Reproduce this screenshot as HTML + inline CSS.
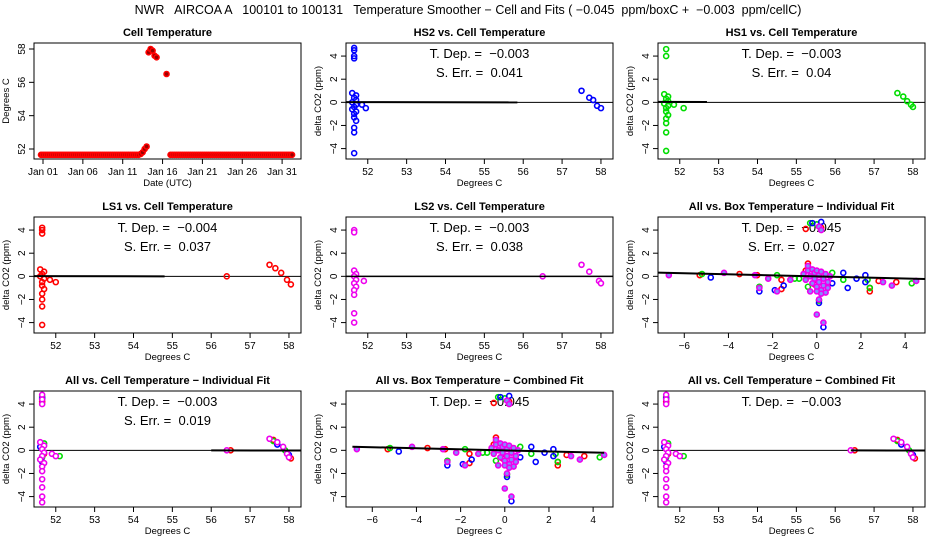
<!DOCTYPE html>
<html><head><meta charset="utf-8"><style>
body{margin:0;background:#fff;}
svg{display:block;font-family:"Liberation Sans",sans-serif;}
svg text{white-space:pre;}
</style></head><body>
<svg id="c" width="936" height="540" viewBox="0 0 936 540">
<text x="468" y="14" text-anchor="middle" font-size="12.5" xml:space="preserve">NWR   AIRCOA A   100101 to 100131   Temperature Smoother − Cell and Fits ( −0.045  ppm/boxC +  −0.003  ppm/cellC)</text>
</svg>
<script>
// ---- Panel 1: cell temperature time series (every 0.25 day starting day -0.25) ----
const cellTempStart = -0.25;
const cellTempStep = 0.25;
const cellTemps = [
51.65,51.65,51.65,51.65,51.65,51.65,51.65,51.65,51.65,51.65,51.65,51.65,51.65,51.65,51.65,51.65,51.65,51.65,51.65,51.65,
51.65,51.65,51.65,51.65,51.65,51.65,51.65,51.65,51.65,51.65,51.65,51.65,51.65,51.65,51.65,51.65,51.65,51.65,51.65,51.65,
51.65,51.65,51.65,51.65,51.65,51.65,51.65,51.65,51.65,51.65,51.7,51.8,52.0,52.15,57.8,58.0,57.9,57.6,57.5,null,
null,null,null,56.5,null,51.65,51.65,51.65,51.65,51.65,51.65,51.65,51.65,51.65,51.65,51.65,51.65,51.65,51.65,51.65,
51.65,51.65,51.65,51.65,51.65,51.65,51.65,51.65,51.65,51.65,51.65,51.65,51.65,51.65,51.65,51.65,51.65,51.65,51.65,51.65,
51.65,51.65,51.65,51.65,51.65,51.65,51.65,51.65,51.65,51.65,51.65,51.65,51.65,51.65,51.65,51.65,51.65,51.65,51.65,51.65,
51.65,51.65,51.65,51.65,51.65,51.65,51.65];
const dateTickDays = [0,5,10,15,20,25,30];
const dateTickLabels = ["Jan 01","Jan 06","Jan 11","Jan 16","Jan 21","Jan 26","Jan 31"];

// ---- cell-temperature scatter data: [x, y] ----
const hs2Pts = [[51.65,4.7],[51.65,4.5],[51.65,4.0],[51.65,3.8],[51.6,0.8],[51.7,0.6],[51.65,0.4],[51.7,0.2],[51.6,0],[51.7,-0.2],[51.65,-0.4],[51.6,-0.6],[51.7,-0.8],[51.65,-1.0],[51.65,-1.3],[51.7,-1.6],[51.65,-2.2],[51.65,-2.6],[51.65,-4.4],[51.85,-0.2],[51.95,-0.5],[57.5,1.0],[57.7,0.4],[57.8,0.2],[57.9,-0.3],[58.0,-0.5]];
const hs1Pts = [[51.65,4.6],[51.65,4.0],[51.6,0.7],[51.7,0.5],[51.65,0.3],[51.7,0.1],[51.6,-0.1],[51.7,-0.3],[51.65,-0.5],[51.65,-0.8],[51.7,-1.1],[51.65,-1.4],[51.65,-1.8],[51.65,-2.6],[51.65,-4.2],[51.85,-0.2],[52.1,-0.5],[57.6,0.8],[57.75,0.5],[57.85,0.1],[57.95,-0.2],[58.0,-0.4]];
const ls1Pts = [[51.65,4.2],[51.65,4.0],[51.65,3.7],[51.6,0.6],[51.7,0.4],[51.65,0.2],[51.6,0],[51.7,-0.2],[51.65,-0.5],[51.65,-0.8],[51.7,-1.1],[51.65,-1.5],[51.65,-2.0],[51.65,-2.6],[51.65,-4.2],[51.85,-0.3],[52.0,-0.5],[56.4,0.0],[57.5,1.0],[57.65,0.7],[57.8,0.3],[57.95,-0.3],[58.05,-0.7]];
const ls2Pts = [[51.65,4.0],[51.65,3.8],[51.65,0.5],[51.7,0.2],[51.65,0],[51.7,-0.3],[51.65,-0.6],[51.7,-0.9],[51.65,-1.2],[51.65,-1.6],[51.65,-3.2],[51.65,-4.0],[51.9,-0.4],[56.5,0.0],[57.5,1.0],[57.7,0.4],[57.95,-0.4],[58.0,-0.6]];
const allCellMag = [[51.65,4.8],[51.65,4.4],[51.65,4.0],[51.6,0.7],[51.7,0.4],[51.65,0.1],[51.7,-0.2],[51.65,-0.5],[51.6,-0.8],[51.7,-1.1],[51.65,-1.4],[51.65,-1.8],[51.65,-2.5],[51.65,-3.2],[51.65,-4.0],[51.65,-4.5],[51.9,-0.3],[52.0,-0.5],[56.4,0.0],[57.5,1.0],[57.7,0.7],[57.85,0.3],[57.95,-0.3],[58.0,-0.6]];
const allCellGrn = [[51.65,4.6],[51.7,0.6],[51.65,-0.6],[52.1,-0.5],[57.6,0.8],[57.9,0.0]];
const allCellBlu = [[51.65,4.5],[51.6,0.3],[51.65,-1.0],[57.7,0.5],[58.0,-0.4]];
const allCellRed = [[51.65,4.2],[51.7,-0.3],[56.5,0.0],[57.6,0.9],[58.05,-0.7]];

// ---- box-temperature scatter data ----
const boxMag = [[-6.7,0.1],[-4.2,0.3],[-2.6,-1.0],[-2.2,-0.2],[-1.8,-1.3],[-1.2,-0.3],[-0.6,0.2],[-0.5,-0.3],[-0.4,0.5],[-0.3,0.0],[-0.2,0.6],[-0.2,-0.6],[-0.1,0.3],[-0.1,-0.2],[0,0.5],[0,-0.9],[0.1,0.1],[0.1,-0.5],[0.2,0.4],[0.2,-1.2],[0.3,-0.2],[0.3,-0.8],[0.4,0.2],[0.4,-1.4],[0.5,-0.5],[0.5,-1.0],[0.6,0.0],[0.2,-1.5],[0,-1.3],[-0.3,-1.3],[-0.4,0.9],[0.1,-2.0],[0,-3.3],[0.3,-4.0],[0.1,4.3],[0.2,4.0],[3.4,-0.8],[4.5,-0.4],[3.0,-0.5],[-2.8,0.1]];
const boxGrn = [[-5.2,0.2],[-2.6,-0.9],[-1.8,0.1],[-1.0,-0.2],[-0.8,-0.2],[-0.4,-0.9],[0.1,-2.1],[0.7,0.3],[1.2,-0.3],[2.3,-0.3],[2.4,-1.0],[4.3,-0.6],[-0.3,4.6],[0.0,4.5]];
const boxBlu = [[-4.8,-0.1],[-2.6,-1.3],[-1.9,-1.2],[-1.5,-0.8],[0.1,-2.3],[0.3,-4.4],[0.7,-0.6],[1.2,0.3],[1.4,-1.0],[1.8,-0.2],[2.2,0.1],[2.2,-0.5],[-0.2,4.6],[0.2,4.7]];
const boxRed = [[-5.3,0.1],[-3.5,0.2],[-2.7,0.1],[-1.6,-1.1],[-1.6,-0.3],[-0.5,0.5],[-0.4,1.1],[0.2,4.2],[-0.5,4.1],[2.4,-1.0],[2.4,-1.3],[2.8,-0.4],[3.6,-0.5],[-0.1,-0.7]];

// ---- fit lines [x0, y0, x1, y1] and stats ----
const fitHS2 = [51.44,0.02,55.85,0.0];
const fitHS1 = [51.44,0.04,52.7,0.03];
const fitLS1 = [51.44,0.02,54.8,0.0];
const fitLS2 = [51.44,0.0,58.31,0.0];
const fitBoxInd = [-7.19,0.32,4.9,-0.23];
const fitCellInd = [56.0,0.0,58.31,-0.02];
const fitBoxComb = [-6.9,0.31,4.5,-0.21];
const fitCellComb = [56.4,0.0,58.31,-0.02];
const tempTicks = [52,53,54,55,56,57,58];
const boxTicks = [-6,-4,-2,0,2,4];
const deltaTicks = [-4,-2,0,2,4];
const tempDomain = [51.44,58.31];
const boxDomain = [-7.19,4.9];
const deltaDomain = [-4.9,5.13];

const NS = "http://www.w3.org/2000/svg";
const svg = document.getElementById("c");
function mk(tag, attrs, parent, text){
  const e = document.createElementNS(NS, tag);
  for (const k in attrs) e.setAttribute(k, attrs[k]);
  if (text !== undefined) e.textContent = text;
  (parent || svg).appendChild(e);
  return e;
}
function panel(col, row, name, title, xd, yd, xticks, xlabels, yticks, xlab, ylab){
  const L = 34 + 312*col, R = 301 + 312*col, T = 43 + 174*row, B = T + 116;
  const g = mk("g", {});
  
  
  const sx = v => L + (v - xd[0])/(xd[1]-xd[0])*(R-L);
  const sy = v => B - (v - yd[0])/(yd[1]-yd[0])*(B-T);
  const box = mk("rect", {x:L, y:T, width:R-L, height:B-T, fill:"none", stroke:"#000", "stroke-width":1}, g);
  
  
  const tt = mk("text", {x:(L+R)/2, y:T-7, "text-anchor":"middle", "font-size":11, "font-weight":"bold"}, g, title);
  
  
  const xa = mk("g", {}, g);
  
  
  mk("line", {x1:sx(xticks[0]), x2:sx(xticks[xticks.length-1]), y1:B, y2:B, stroke:"#000"}, xa);
  xticks.forEach((t,i)=>{
    mk("line", {x1:sx(t), x2:sx(t), y1:B, y2:B+5, stroke:"#000"}, xa);
    const lb = mk("text", {x:sx(t), y:B+16, "text-anchor":"middle", "font-size":10}, xa, xlabels[i]);
    
    
  });
  const xl = mk("text", {x:(L+R)/2, y:B+27, "text-anchor":"middle", "font-size":9.5}, g, xlab);
  
  
  const ya = mk("g", {}, g);
  
  
  mk("line", {x1:L, x2:L, y1:sy(yticks[0]), y2:sy(yticks[yticks.length-1]), stroke:"#000"}, ya);
  yticks.forEach(t=>{
    mk("line", {x1:L-5, x2:L, y1:sy(t), y2:sy(t), stroke:"#000"}, ya);
    const lb = mk("text", {x:L-9, y:sy(t), "text-anchor":"middle", "font-size":10, transform:`rotate(-90 ${L-9} ${sy(t)})`}, ya, t<0 ? "−"+(-t) : String(t));
    
    
  });
  const yl = mk("text", {x:L-25, y:(T+B)/2, "text-anchor":"middle", "font-size":9.5, transform:`rotate(-90 ${L-25} ${(T+B)/2})`}, g, ylab);
  
  
  return {g, sx, sy, L, R, T, B};
}
function pts(p, arr, color, fill){
  arr.forEach(d=>{
    const c = mk("circle", {cx:p.sx(d[0]), cy:p.sy(d[1]), r:2.5, fill:fill||"none", stroke:color, "stroke-width":1.6}, p.g);
    
    
  });
}
function fit(p, f, w){
  const l = mk("line", {x1:p.sx(f[0]), y1:p.sy(f[1]), x2:p.sx(f[2]), y2:p.sy(f[3]), stroke:"#000", "stroke-width":w||2}, p.g);
  
  
}
function zero(p){
  const l = mk("line", {x1:p.L, y1:p.sy(0), x2:p.R, y2:p.sy(0), stroke:"#000", "stroke-width":1}, p.g);
  
  
}
function stats(p, dep, err){
  const t = mk("text", {x:(p.L+p.R)/2, y:p.T+15, "text-anchor":"middle", "font-size":13}, p.g, "T. Dep. =  " + dep);
  
  
  if (err !== null){
    const e = mk("text", {x:(p.L+p.R)/2, y:p.T+34, "text-anchor":"middle", "font-size":13}, p.g, "S. Err. =  " + err);
    
    
  }
}
const tl = tempTicks.map(String), bl = boxTicks.map(t=>t<0?"−"+(-t):String(t));
const dY = "delta CO2 (ppm)", dC = "Degrees C";

// Panel 1
const p1 = panel(0,0,"cell-temperature-panel","Cell Temperature",[-1.13,32.37],[51.4,58.36],dateTickDays,dateTickLabels,[52,54,56,58],"Date (UTC)","Degrees C");
cellTemps.forEach((v,i)=>{
  if (v === null) return;
  const c = mk("circle", {cx:p1.sx(cellTempStart + i*cellTempStep), cy:p1.sy(v), r:2.5, fill:"#900", stroke:"#f00", "stroke-width":1.6}, p1.g);
  
  
});

// Panel 2
let p = panel(1,0,"hs2-panel","HS2 vs. Cell Temperature",tempDomain,deltaDomain,tempTicks,tl,deltaTicks,dC,dY);
zero(p); pts(p,hs2Pts,"#00f"); fit(p,fitHS2); stats(p,"−0.003","0.041");
// Panel 3
p = panel(2,0,"hs1-panel","HS1 vs. Cell Temperature",tempDomain,deltaDomain,tempTicks,tl,deltaTicks,dC,dY);
zero(p); pts(p,hs1Pts,"#0d0"); fit(p,fitHS1); stats(p,"−0.003","0.04");
// Panel 4
p = panel(0,1,"ls1-panel","LS1 vs. Cell Temperature",tempDomain,deltaDomain,tempTicks,tl,deltaTicks,dC,dY);
zero(p); pts(p,ls1Pts,"#f00"); fit(p,fitLS1); stats(p,"−0.004","0.037");
// Panel 5
p = panel(1,1,"ls2-panel","LS2 vs. Cell Temperature",tempDomain,deltaDomain,tempTicks,tl,deltaTicks,dC,dY);
zero(p); pts(p,ls2Pts,"#e0e","#fff"); fit(p,fitLS2,1.5); stats(p,"−0.003","0.038");
// Panel 6
p = panel(2,1,"all-box-individual-panel","All vs. Box Temperature − Individual Fit",boxDomain,deltaDomain,boxTicks,bl,deltaTicks,dC,dY);
stats(p,"−0.045","0.027");
pts(p,boxRed,"#f00"); pts(p,boxGrn,"#0d0"); pts(p,boxBlu,"#00f"); pts(p,boxMag,"#e0e","#88f"); fit(p,fitBoxInd);
// Panel 7
p = panel(0,2,"all-cell-individual-panel","All vs. Cell Temperature − Individual Fit",tempDomain,deltaDomain,tempTicks,tl,deltaTicks,dC,dY);
zero(p); stats(p,"−0.003","0.019");
pts(p,allCellRed,"#f00"); pts(p,allCellGrn,"#0d0"); pts(p,allCellBlu,"#00f"); pts(p,allCellMag,"#e0e","#fff"); fit(p,fitCellInd);
// Panel 8
p = panel(1,2,"all-box-combined-panel","All vs. Box Temperature − Combined Fit",boxDomain,deltaDomain,boxTicks,bl,deltaTicks,dC,dY);
stats(p,"−0.045",null);
pts(p,boxRed,"#f00"); pts(p,boxGrn,"#0d0"); pts(p,boxBlu,"#00f"); pts(p,boxMag,"#e0e","#88f"); fit(p,fitBoxComb);
// Panel 9
p = panel(2,2,"all-cell-combined-panel","All vs. Cell Temperature − Combined Fit",tempDomain,deltaDomain,tempTicks,tl,deltaTicks,dC,dY);
zero(p); stats(p,"−0.003",null);
pts(p,allCellRed,"#f00"); pts(p,allCellGrn,"#0d0"); pts(p,allCellBlu,"#00f"); pts(p,allCellMag,"#e0e","#fff"); fit(p,fitCellComb);
</script>
</body></html>
